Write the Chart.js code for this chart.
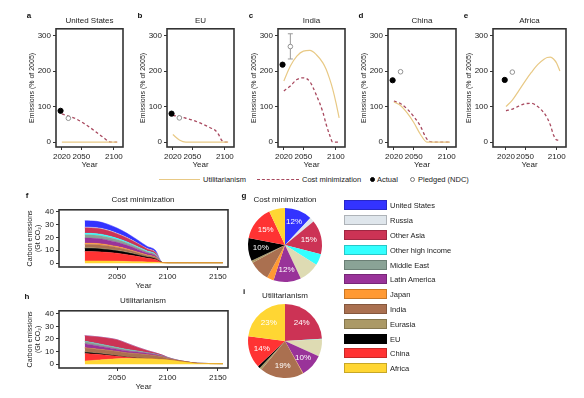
<!DOCTYPE html>
<html><head><meta charset="utf-8">
<script src="https://cdn.jsdelivr.net/npm/chart.js@4/dist/chart.umd.min.js"></script>
<style>
body{margin:0;background:#fff;}
#wrap{position:relative;width:584px;height:398px;overflow:hidden;font-family:"Liberation Sans",Arial,sans-serif;color:#222;}
#wrap canvas{position:absolute;}
.t{position:absolute;font-size:8px;color:#222;white-space:nowrap;transform:translate(-50%,-50%);}
.l{position:absolute;font-size:7.5px;color:#222;white-space:nowrap;transform:translateY(-50%);}
.lt{position:absolute;font-size:8px;color:#111;font-weight:bold;transform:translate(-50%,-50%);}
</style></head><body><div id="wrap"></div>
<script>
// ---- top row: emissions as % of 2005 ----
const TOP_TITLES = ['United States','EU','India','China','Africa'];
const TOP_LETTERS = ['a','b','c','d','e'];
const TOP_YEARS = [2020,2030,2040,2050,2060,2070,2080,2085,2090,2095,2100,2105];
const UTIL_US = [0,0,0,0,0,0,0,0,0,0,0,0];
const COST_US = [79,73,67,57,45,32,18,11,4,0,0,0];
const UTIL_EU = [21,6,0,0,0,0,0,0,0,0,0,0];
const COST_EU = [75,72,67,62,55,47,38,33,22,5,0,0];
const UTIL_IN = [172,214,242,256,258,246,223,205,180,150,112,68];
const COST_IN = [144,158,176,181,170,132,84,50,22,0,0,0];
const UTIL_CN = [113,103,82,55,22,0,0,0,0,0,0,0];
const COST_CN = [115,108,93,72,45,8,0,0,0,0,0,0];
const UTIL_AF = [100,118,144,171,196,218,233,238,239,234,222,200];
const COST_AF = [88,93,101,108,109,100,82,68,48,20,6,5];
const ACTUAL_YEAR = 2018, PLEDGE_YEAR = 2030;
const ACTUAL = [88,80,218,174,175];
const PLEDGED = [67,68,269,198,197];
const PLEDGED_LOW = [null,null,234,null,null];
const PLEDGED_HIGH = [null,null,305,null,null];
const TOP_X_TICKS = [2020,2050,2100];
const TOP_Y_TICKS = [0,100,200,300];

// ---- regions (legend order) ----
const REGIONS = ['United States','Russia','Other Asia','Other high income','Middle East','Latin America','Japan','India','Eurasia','EU','China','Africa'];
const COLORS = ['#3333ff','#dfe6ec','#cc3355','#33ffff','#8aa396','#993399','#ff9933','#aa7050','#ab9966','#000000','#ff3333','#ffd633'];
const PIE_COLORS = ['#3333ff','#dfe6ec','#cc3355','#33ffff','#dedbb3','#993399','#ff9933','#aa7050','#ab9966','#000000','#ff3333','#ffd633'];

// ---- stacked areas, Gt CO2, rows follow REGIONS ----
const AREA_YEARS = [2018,2030,2040,2050,2060,2070,2080,2088,2095,2100,2110,2120,2130,2155];
const COST_AREA = [
  [5.0,4.9,4.5,4.0,3.3,2.5,1.7,1.3,0,0,0,0,0,0],   // United States
  [0.5,0.5,0.5,0.4,0.3,0.3,0.2,0.2,0,0,0,0,0,0],   // Russia
  [4.3,4.2,4.0,3.6,3.1,2.4,1.7,1.3,0,0,0,0,0,0],   // Other Asia
  [1.2,1.2,1.1,1.0,0.8,0.7,0.5,0.4,0,0,0,0,0,0],   // Other high income
  [2.5,2.5,2.3,2.1,1.8,1.4,1.0,0.8,0,0,0,0,0,0],   // Middle East
  [4.0,3.9,3.7,3.3,2.8,2.2,1.6,1.2,0,0,0,0,0,0],   // Latin America
  [1.0,1.0,0.9,0.8,0.7,0.5,0.4,0.3,0,0,0,0,0,0],   // Japan
  [2.5,2.5,2.4,2.1,1.8,1.4,1.0,0.8,0,0,0,0,0,0],   // India
  [0.5,0.5,0.5,0.4,0.4,0.3,0.2,0.2,0,0,0,0,0,0],   // Eurasia
  [2.5,2.4,2.2,1.9,1.6,1.2,0.8,0.6,0,0,0,0,0,0],   // EU
  [7.3,7.2,6.8,6.2,5.3,4.2,3.0,2.2,0.1,0,0,0,0,0], // China
  [1.7,1.7,1.6,1.5,1.3,1.1,0.9,0.7,0.4,0.4,0.4,0.4,0.4,0.4] // Africa
];
const UTIL_AREA = [
  [0,0,0,0,0,0,0,0,0,0,0,0,0,0],
  [0,0,0,0,0,0,0,0,0,0,0,0,0,0],
  [4.5,5.4,6.0,6.2,4.9,3.1,1.7,1.0,0.7,0.4,0.1,0.1,0,0],
  [0.1,0.1,0.1,0.1,0.1,0,0,0,0,0,0,0,0,0],
  [1.7,1.6,1.4,1.2,1.0,0.8,0.5,0.3,0.2,0.1,0,0,0,0],
  [3.3,2.7,2.2,1.8,1.6,1.3,1.1,0.9,0.6,0.4,0.1,0,0,0],
  [0.2,0.1,0.1,0.1,0,0,0,0,0,0,0,0,0,0],
  [3.0,3.0,3.0,3.1,3.0,3.2,3.0,2.5,1.8,1.1,0.4,0.1,0.1,0],
  [0.3,0.3,0.3,0.2,0.2,0.2,0.1,0.1,0,0,0,0,0,0],
  [1.0,0.8,0.6,0.4,0.2,0.1,0,0,0,0,0,0,0,0],
  [6.0,4.6,3.3,2.0,1.0,0.3,0,0,0,0,0,0,0,0],
  [2.5,3.2,3.8,4.3,4.5,4.5,4.4,4.2,3.9,3.5,2.6,1.6,0.6,0.5]
];
const AREA_X_TICKS = [2050,2100,2150];
const AREA_Y_TICKS = [0,10,20,30,40];

// ---- pies, % share of cumulative emissions ----
const PIE_COST = [12,2,15,5,9,12,3,9,1,10,15,7];
const PIE_UTIL = [0,0,24,0.3,7.5,10,0.2,19,1,1,14,23];

const UTIL_COLOR = '#e8c985', COST_COLOR = '#a8485e', INK = '#222';
const wrap = document.getElementById('wrap');
const FONT = '"Liberation Sans", Arial, sans-serif';
Chart.defaults.font.family = FONT;
Chart.defaults.color = INK;

function addText(cls, txt, x, y, extra){
  const d = document.createElement('div'); d.className = cls; d.textContent = txt;
  d.style.left = x+'px'; d.style.top = y+'px';
  if (extra) Object.assign(d.style, extra);
  wrap.appendChild(d); return d;
}
function addCanvas(x,y,w,h){
  const c = document.createElement('canvas'); c.width = w; c.height = h;
  c.style.left = x+'px'; c.style.top = y+'px'; wrap.appendChild(c); return c;
}
const frame = {id:'frame', afterDraw(ch){
  const a = ch.chartArea, ctx = ch.ctx;
  ctx.save(); ctx.strokeStyle = '#333'; ctx.lineWidth = 1.6;
  ctx.strokeRect(a.left, a.top, a.width, a.height); ctx.restore();
}};
function axisBase(ticks, extra){
  return Object.assign({
    type:'linear',
    afterBuildTicks: s => { s.ticks = ticks.map(v => ({value:v})); },
    grid:{drawOnChartArea:false, tickLength:3, color:'#333', lineWidth:1},
    border:{display:false},
    ticks:{font:{size:8}, color:INK, padding:2, maxRotation:0, autoSkip:false, callback:v => String(v)}
  }, extra);
}

// ---- top panels ----
const UTIL_TOP = [UTIL_US, UTIL_EU, UTIL_IN, UTIL_CN, UTIL_AF];
const COST_TOP = [COST_US, COST_EU, COST_IN, COST_CN, COST_AF];
const TOP_LEFT = [56,167,278,388,493];
const TOP_W = [67,67,67,68,73];
const TOP_XMIN = [2011,2011,2011,2011,1999.5];
const TOP_XMAX = [2114,2114,2114,2114,2114.7];

TOP_TITLES.forEach((title,i) => {
  const L = TOP_LEFT[i], W = TOP_W[i];
  const c = addCanvas(L-28, 22, 28+W+6, 149);
  const pts = ys => TOP_YEARS.map((x,k) => ({x, y:ys[k]}));
  const errBar = {id:'err', beforeDatasetsDraw(ch){
    if (PLEDGED_LOW[i] == null) return;
    const xs = ch.scales.x, ys = ch.scales.y, ctx = ch.ctx;
    const px = xs.getPixelForValue(PLEDGE_YEAR), y0 = ys.getPixelForValue(PLEDGED_LOW[i]), y1 = ys.getPixelForValue(PLEDGED_HIGH[i]);
    ctx.save(); ctx.strokeStyle = '#999'; ctx.lineWidth = 1;
    ctx.beginPath(); ctx.moveTo(px,y0); ctx.lineTo(px,y1);
    ctx.moveTo(px-2.5,y0); ctx.lineTo(px+2.5,y0); ctx.moveTo(px-2.5,y1); ctx.lineTo(px+2.5,y1);
    ctx.stroke(); ctx.restore();
  }};
  new Chart(c, {
    type:'line',
    data:{datasets:[
      {data:[{x:ACTUAL_YEAR,y:ACTUAL[i]}], showLine:false, pointRadius:2.6, pointBackgroundColor:'#000', pointBorderColor:'#000'},
      {data:[{x:PLEDGE_YEAR,y:PLEDGED[i]}], showLine:false, pointRadius:2.3, pointBackgroundColor:'#fff', pointBorderColor:'#888', pointBorderWidth:0.9},
      {data:pts(UTIL_TOP[i]), borderColor:UTIL_COLOR, borderWidth:1.2, pointRadius:0, cubicInterpolationMode:'monotone'},
      {data:pts(COST_TOP[i]), borderColor:COST_COLOR, borderWidth:1.3, borderDash:[3,2.5], pointRadius:0, cubicInterpolationMode:'monotone'}
    ]},
    options:{
      animation:false, responsive:false, events:[],
      layout:{padding:{top:5,right:6,left:0,bottom:0}},
      plugins:{legend:{display:false}, tooltip:{enabled:false}},
      scales:{
        x: axisBase(TOP_X_TICKS, {min:TOP_XMIN[i], max:TOP_XMAX[i], afterFit:s => { s.height = 24; },
          title:{display:true, text:'Year', font:{size:8}, color:INK, padding:{top:0,bottom:1}}}),
        y: axisBase(TOP_Y_TICKS, {min:-14, max:319, afterFit:s => { s.width = 28; },
          title:{display:true, text:'Emissions (% of 2005)', font:{size:7}, color:INK, padding:{top:0,bottom:0}}})
      }
    },
    plugins:[frame, errBar]
  });
  addText('t', title, L+W/2, 20);
  addText('lt', TOP_LETTERS[i], L-27, 15);
});

// top legend
function legLine(x, w, style){
  const d = document.createElement('div');
  Object.assign(d.style, {position:'absolute', left:x+'px', top:'178.5px', width:w+'px', height:'0', borderTop:style});
  wrap.appendChild(d);
}
function legDot(x, fill, border){
  const d = document.createElement('div');
  Object.assign(d.style, {position:'absolute', left:(x-2.5)+'px', top:'176.5px', width:'5px', height:'5px', borderRadius:'50%', background:fill, border:border, boxSizing:'border-box'});
  wrap.appendChild(d);
}
legLine(159, 41, '1.4px solid '+UTIL_COLOR);
addText('l', 'Utilitarianism', 203, 179);
legLine(257, 42, '1.4px dashed '+COST_COLOR);
addText('l', 'Cost minimization', 302, 179);
legDot(372, '#000', '1px solid #000');
addText('l', 'Actual', 377, 179);
legDot(412, '#fff', '1px solid #777');
addText('l', 'Pledged (NDC)', 418, 179);

// ---- stacked area panels ----
function areaPanel(rows, top, ymax, title, letter){
  const datasets = [];
  for (let r = REGIONS.length-1; r >= 0; r--) {
    datasets.push({
      label: REGIONS[r],
      data: AREA_YEARS.map((x,k) => ({x, y:rows[r][k]})),
      backgroundColor: COLORS[r], borderColor: COLORS[r], borderWidth: 0.5,
      pointRadius: 0, fill: datasets.length === 0 ? 'origin' : '-1',
      cubicInterpolationMode: 'monotone'
    });
  }
  const c = addCanvas(26, top-4, 33+169+6, 89);
  new Chart(c, {
    type:'line', data:{datasets},
    options:{
      animation:false, responsive:false, events:[],
      layout:{padding:{top:4,right:6,left:0,bottom:0}},
      plugins:{legend:{display:false}, tooltip:{enabled:false}, filler:{propagate:false}},
      scales:{
        x: axisBase(AREA_X_TICKS, {min:1992.5, max:2160, afterFit:s => { s.height = 25; },
          title:{display:true, text:'Year', font:{size:8}, color:INK, padding:{top:0,bottom:1}}}),
        y: axisBase(AREA_Y_TICKS, {min:-3, max:ymax, stacked:true, afterFit:s => { s.width = 33; },
          title:{display:true, text:['Carbon emissions','(Gt CO\u2082)'], font:{size:7, lineHeight:1.15}, color:INK, padding:{top:0,bottom:0}}})
      }
    },
    plugins:[frame]
  });
  addText('t', title, 143, top-8);
  addText('lt', letter, 27, top-12);
}
areaPanel(COST_AREA, 207, 41.5, 'Cost minimization', 'f');
areaPanel(UTIL_AREA, 308, 42.3, 'Utilitarianism', 'h');

// ---- pies ----
function piePanel(vals, cy, title, letter){
  const c = addCanvas(245, cy-40, 80, 80);
  const labels = {id:'pct', afterDatasetsDraw(ch){
    const ctx = ch.ctx;
    ctx.save(); ctx.fillStyle = '#fff'; ctx.font = '8px '+FONT;
    ctx.textAlign = 'center'; ctx.textBaseline = 'middle';
    ch.getDatasetMeta(0).data.forEach((arc,k) => {
      if (vals[k] < 10) return;
      const p = arc.getProps(['x','y','startAngle','endAngle','outerRadius'], true);
      const a = (p.startAngle + p.endAngle) / 2, rr = p.outerRadius * 0.66;
      ctx.fillText(Math.round(vals[k]) + '%', p.x + Math.cos(a)*rr, p.y + Math.sin(a)*rr);
    });
    ctx.restore();
  }};
  new Chart(c, {
    type:'pie',
    data:{labels:REGIONS, datasets:[{data:vals, backgroundColor:PIE_COLORS, borderWidth:0}]},
    options:{animation:false, responsive:false, events:[],
      layout:{padding:3},
      plugins:{legend:{display:false}, tooltip:{enabled:false}}},
    plugins:[labels]
  });
  addText('t', title, 285, cy-46);
  addText('lt', letter, 244, cy-50);
}
piePanel(PIE_COST, 245, 'Cost minimization', 'g');
piePanel(PIE_UTIL, 341, 'Utilitarianism', 'i');

// ---- region legend ----
REGIONS.forEach((name,k) => {
  const yc = 205.3 + 14.8*k;
  const b = document.createElement('div');
  Object.assign(b.style, {position:'absolute', left:'344px', top:(yc-5)+'px', width:'43px', height:'10px',
    background:COLORS[k], border:'1px solid rgba(0,0,0,0.22)', boxSizing:'border-box'});
  wrap.appendChild(b);
  addText('l', name, 390, yc);
});
</script></body></html>
